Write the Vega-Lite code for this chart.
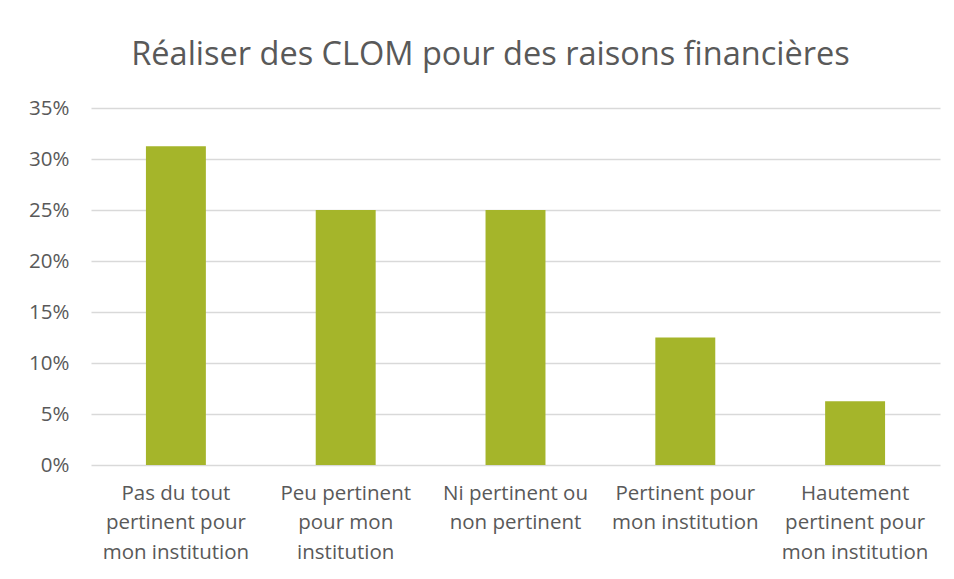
{
  "$schema": "https://vega.github.io/schema/vega-lite/v6.json",
  "width": 849,
  "height": 357,
  "autosize": {"type": "none"},
  "padding": {"left": 91, "top": 108, "right": 14, "bottom": 114},
  "background": "white",
  "title": {
    "text": "Réaliser des CLOM pour des raisons financières",
    "fontSize": 32.5,
    "font": "Open Sans",
    "fontWeight": "normal",
    "color": "#595959",
    "anchor": "middle",
    "dx": -25,
    "offset": 27
  },
  "data": {
    "values": [
      {"categorie": "Pas du tout pertinent pour mon institution", "ordre": 1, "part": 0.3125},
      {"categorie": "Peu pertinent pour mon institution", "ordre": 2, "part": 0.25},
      {"categorie": "Ni pertinent ou non pertinent", "ordre": 3, "part": 0.25},
      {"categorie": "Pertinent pour mon institution", "ordre": 4, "part": 0.125},
      {"categorie": "Hautement pertinent pour mon institution", "ordre": 5, "part": 0.0625}
    ]
  },
  "mark": {"type": "bar", "color": "#a5b52a"},
  "encoding": {
    "x": {
      "field": "categorie",
      "type": "nominal",
      "sort": {"field": "ordre"},
      "scale": {"paddingInner": 0.647, "paddingOuter": 0.3235},
      "axis": {
        "title": null,
        "labelAngle": 0,
        "ticks": false,
        "domain": false,
        "labelFontSize": 20.5,
        "labelFont": "Open Sans",
        "labelColor": "#595959",
        "labelPadding": 18,
        "labelLineHeight": 29.5,
        "labelBaseline": "top",
        "labelLimit": 300,
        "labelExpr": "datum.value == 'Pas du tout pertinent pour mon institution' ? ['Pas du tout', 'pertinent pour', 'mon institution'] : datum.value == 'Peu pertinent pour mon institution' ? ['Peu pertinent', 'pour mon', 'institution'] : datum.value == 'Ni pertinent ou non pertinent' ? ['Ni pertinent ou', 'non pertinent'] : datum.value == 'Pertinent pour mon institution' ? ['Pertinent pour', 'mon institution'] : ['Hautement', 'pertinent pour', 'mon institution']"
      }
    },
    "y": {
      "field": "part",
      "type": "quantitative",
      "scale": {"domain": [0, 0.35], "nice": false},
      "axis": {
        "title": null,
        "format": ".0%",
        "values": [0, 0.05, 0.1, 0.15, 0.2, 0.25, 0.3, 0.35],
        "ticks": false,
        "domain": false,
        "gridColor": "#d9d9d9",
        "gridWidth": 1.5,
        "labelFontSize": 20.5,
        "labelFont": "Open Sans",
        "labelColor": "#595959",
        "labelPadding": 22
      }
    }
  },
  "config": {"view": {"stroke": null}}
}
